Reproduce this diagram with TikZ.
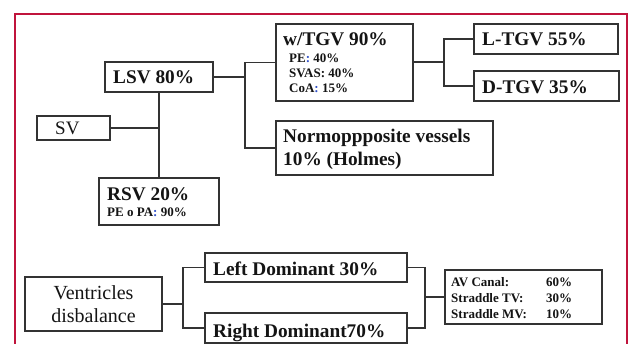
\documentclass[tikz,border=0pt]{standalone}
\usepackage{fontspec}
\setmainfont{Liberation Serif}
\definecolor{framered}{HTML}{C0143C}
\definecolor{boxc}{HTML}{333333}
\definecolor{colonblue}{HTML}{3050C8}
\newcommand{\bc}{\textcolor{colonblue}{:}}
\begin{document}
\begin{tikzpicture}[x=1pt,y=-1pt,
  box/.style={draw=boxc, line width=1.2pt, inner sep=0pt, rectangle},
  conn/.style={draw=boxc, line width=1.2pt},
  mainconn/.style={draw=boxc, line width=2pt},
  big/.style={font=\fontsize{19.3}{22}\selectfont\bfseries, inner sep=0pt, anchor=base west, text=black!92},
  small/.style={font=\fontsize{13}{15}\selectfont\bfseries, inner sep=0pt, anchor=base west, text=black!92},
  reg/.style={font=\fontsize{20}{23}\selectfont, inner sep=0pt, anchor=base, text=black!92}]
\useasboundingbox (0,0) rectangle (631,344);
\clip (0,0) rectangle (631,344);
\fill[white] (0,0) rectangle (631,344);
% frame
\draw[framered, line width=2.5pt] (15,360) -- (15,14) -- (627,14) -- (627,360);

% boxes
\node[box, minimum width=73pt, minimum height=24pt] (sv) at (73.5,128) {};
\node[box, minimum width=108pt, minimum height=30pt] (lsv) at (159,77) {};
\node[box, minimum width=120pt, minimum height=47pt] (rsv) at (159,201.5) {};
\node[box, minimum width=137pt, minimum height=77pt] (wtgv) at (344.5,62.5) {};
\node[box, minimum width=217pt, minimum height=54pt] (norm) at (384.5,148) {};
\node[box, minimum width=144pt, minimum height=30pt] (ltgv) at (546,39) {};
\node[box, minimum width=145pt, minimum height=30pt] (dtgv) at (546.5,86) {};
\node[box, minimum width=137pt, minimum height=54pt] (vent) at (93.5,304) {};
\node[box, minimum width=202pt, minimum height=29pt] (ldom) at (306,267.5) {};
\node[box, minimum width=202pt, minimum height=30pt] (rdom) at (306,328) {};
\node[box, minimum width=157pt, minimum height=54pt] (av) at (523.5,297) {};

% junction coordinates
\coordinate (j1) at (245,77);
\coordinate (j2) at (444,62.5);
\coordinate (j3) at (183,304);
\coordinate (j4) at (425,297);

% connectors
\draw[mainconn] (sv.east) -- (sv.east -| lsv.south);
\draw[conn] (lsv.south) -- (rsv.north);
\draw[mainconn] (lsv.east) -- (j1);
\draw[conn] (wtgv.west) -- (j1 |- wtgv.west) -- (j1 |- norm.west) -- (norm.west);
\draw[mainconn] (wtgv.east) -- (j2);
\draw[conn] (ltgv.west) -- (j2 |- ltgv.west) -- (j2 |- dtgv.west) -- (dtgv.west);
\draw[mainconn] (vent.east) -- (j3);
\draw[conn] (ldom.west) -- (j3 |- ldom.west) -- (j3 |- rdom.west) -- (rdom.west);
\draw[conn] (ldom.east) -- (j4 |- ldom.east) -- (j4 |- rdom.east) -- (rdom.east);
\draw[conn] (j4) -- (av.west);

% texts
\node[reg, anchor=base west, font=\fontsize{19}{22}\selectfont] (tsv) at (55,135) {SV};
\node[big] (tlsv) at (113,84) {LSV 80\%};
\node[big] (trsv) at (107,201) {RSV 20\%};
\node[small] (trsv2) at (107,217) {PE o PA\bc{} 90\%};
\node[big] (twtgv) at (283,46) {w/TGV 90\%};
\node[small] (tpe) at (289,63) {PE\bc{} 40\%};
\node[small] (tsvas) at (289,78) {SVAS: 40\%};
\node[small] (tcoa) at (289,93) {CoA\bc{} 15\%};
\node[big] (tnorm1) at (283,143) {Normoppposite vessels};
\node[big] (tnorm2) at (283,165.5) {10\% (Holmes)};
\node[big] (tltgv) at (482,46) {L-TGV 55\%};
\node[big] (tdtgv) at (482,94) {D-TGV 35\%};
\node[reg] (tvent1) at (93.5,299) {Ventricles};
\node[reg] (tvent2) at (93.5,322) {disbalance};
\node[big] (tldom) at (213,276) {Left Dominant 30\%};
\node[big] (trdom) at (213,337) {Right Dominant70\%};
\node[small] (tav1) at (451,287) {AV Canal:};
\node[small] (tav2) at (451,302.5) {Straddle TV:};
\node[small] (tav3) at (451,318) {Straddle MV:};
\node[small] (tav1b) at (546,287) {60\%};
\node[small] (tav2b) at (546,302.5) {30\%};
\node[small] (tav3b) at (546,318) {10\%};
\end{tikzpicture}
\end{document}
